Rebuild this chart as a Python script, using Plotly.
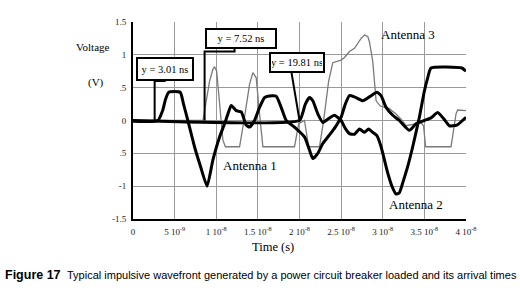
import plotly.graph_objects as go

# ---- data (time in ns, voltage in V) ----
a1_t = [0, 2.98, 3.58, 3.9, 4.3, 5.67, 6.07, 6.59, 7.39, 8.11, 8.9, 9.6, 10.4, 11.0, 11.4, 11.8,
        12.4, 13.0, 13.6, 14.0, 14.6, 15.2, 15.8, 16.2, 17.2, 17.8, 18.4, 19.4, 20.6, 21.2, 21.6,
        22.2, 22.8, 23.6, 24.3, 25.0, 25.5, 26.0, 26.6, 27.6, 28.4, 29.3, 29.8, 30.4, 31.2, 32.0,
        33.2, 34.0, 35.0, 35.8, 36.6, 37.3, 38.0, 38.9, 40.0]
a1_v = [-0.01, 0.0, 0.16, 0.32, 0.43, 0.43, 0.25, 0.0, -0.4, -0.7, -1.0, -0.6, -0.25, -0.05, 0.1, 0.23,
        0.15, 0.13, -0.07, -0.1, 0.0, 0.2, 0.35, 0.37, 0.37, 0.2, 0.0, -0.1, -0.25, -0.45, -0.58,
        -0.5, -0.35, -0.22, -0.1, 0.05, 0.25, 0.38, 0.36, 0.3, 0.36, 0.43, 0.38, 0.2, 0.08, 0.0,
        -0.15, -0.05, 0.0, 0.04, 0.12, 0.03, -0.08, -0.07, 0.05]

a2_t = [0, 20.0, 20.4, 20.7, 21.2, 21.6, 22.2, 22.8, 23.5, 24.2, 25.0, 25.5, 26.0, 26.6, 27.2, 27.8,
        28.3, 28.8, 29.3, 29.8, 30.6, 31.1, 31.6, 32.0, 32.4, 33.0, 33.6, 34.4, 35.0, 35.4, 35.8,
        39.5, 40.0]
a2_v = [0, 0.0, 0.12, 0.25, 0.35, 0.3, 0.1, -0.03, 0.03, 0.08, 0.0, -0.12, -0.2, -0.21, -0.13, -0.18,
        -0.13, -0.18, -0.23, -0.4, -0.8, -1.0, -1.12, -1.1, -0.95, -0.7, -0.4, 0.05, 0.45, 0.65, 0.8,
        0.8, 0.75]

a3_t = [0, 8.4, 8.8, 9.2, 9.6, 9.8, 10.05, 10.4, 10.8, 11.1, 12.8, 13.4, 14.0, 14.4, 14.8, 15.2,
        15.6, 19.4, 19.9, 20.6, 21.1, 22.4, 22.9, 23.5, 24.0, 25.0, 25.4, 26.0, 26.6, 27.4, 27.8,
        28.2, 28.4, 28.8, 29.2, 29.7, 30.8, 31.6, 32.2, 32.8, 33.9, 34.5, 34.9, 35.15, 38.2, 38.8,
        39.0, 40.0]
a3_v = [0, 0.0, 0.3, 0.6, 0.78, 0.82, 0.75, 0.2, -0.3, -0.4, -0.4, 0.05, 0.55, 0.73, 0.65, 0.1,
        -0.4, -0.4, -0.05, 0.0, -0.4, -0.4, 0.0, 0.6, 0.88, 0.92, 0.96, 1.05, 1.1, 1.25, 1.3,
        1.28, 1.2, 0.9, 0.3, 0.22, 0.18, 0.1, 0.02, -0.08, -0.05, -0.02, -0.08, -0.4, -0.4, 0.1,
        0.16, 0.15]

arrival_labels = ["y = 3.01 ns", "y = 7.52 ns", "y = 19.81 ns"]

x_tickvals = [0, 5, 10, 15, 20, 25, 30, 35, 40]
x_ticktext = ["0", "5 10<sup>-9</sup>", "1 10<sup>-8</sup>", "1.5 10<sup>-8</sup>", "2 10<sup>-8</sup>",
              "2.5 10<sup>-8</sup>", "3 10<sup>-8</sup>", "3.5 10<sup>-8</sup>", "4 10<sup>-8</sup>"]
y_tickvals = [1.5, 1, 0.5, 0, -0.5, -1, -1.5]
y_ticktext = ["1.5", "1", ".5", "0", ".5", "-1", "-1.5"]

SERIF = "Liberation Serif, Times New Roman, serif"

fig = go.Figure()
fig.add_trace(go.Scatter(x=a3_t, y=a3_v, mode="lines", name="Antenna 3",
                         line=dict(color="#7a7a7a", width=1.3)))
fig.add_trace(go.Scatter(x=a1_t, y=a1_v, mode="lines", name="Antenna 1",
                         line=dict(color="black", width=3, shape="spline", smoothing=0.5)))
fig.add_trace(go.Scatter(x=a2_t, y=a2_v, mode="lines", name="Antenna 2",
                         line=dict(color="black", width=3, shape="spline", smoothing=0.5)))

# pointer lines for arrival-time boxes
pointer_paths = [
    "M 2.6,0 L 2.6,0.6 L 3.8,0.6 L 3.8,0.64",
    "M 8.6,0 L 8.6,1.05 L 12.2,1.05 L 12.2,1.1",
    "M 20.0,0 L 19.0,0.76",
]
for p in pointer_paths:
    fig.add_shape(type="path", path=p, xref="x", yref="y",
                  line=dict(color="black", width=2))

box_pos = [(3.8, 0.79, 52, 18), (12.93, 1.245, 66, 15), (19.66, 0.88, 50, 15)]
for txt, (bx, by, w, h) in zip(arrival_labels, box_pos):
    fig.add_annotation(x=bx, y=by, xref="x", yref="y", text=txt, showarrow=False,
                       font=dict(family=SERIF, size=10.5, color="black"),
                       bgcolor="white", bordercolor="black", borderwidth=2,
                       borderpad=1, width=w, height=h)

# curve labels
for txt, (lx, ly) in zip(["Antenna 1", "Antenna 2", "Antenna 3"],
                         [(14.0, -0.68), (34.0, -1.28), (33.0, 1.31)]):
    fig.add_annotation(x=lx, y=ly, xref="x", yref="y", text=txt, showarrow=False,
                       font=dict(family=SERIF, size=13, color="black"))

# axis titles
def paper_text(txt, x, y, size, family=SERIF, xanchor="center"):
    fig.add_annotation(x=x, y=y, xref="paper", yref="paper", text=txt, showarrow=False,
                       xanchor=xanchor, yanchor="middle",
                       font=dict(family=family, size=size, color="black"))

paper_text("Voltage", -0.12, 0.873, 11)
paper_text("(V)", -0.11, 0.695, 11)
paper_text("Time (s)", 0.42, -0.142, 12.5)

# caption
paper_text("<b>Figure 17</b>", -0.390, -0.284, 12.5,
           family="Liberation Sans, Arial, sans-serif", xanchor="left")
paper_text("Typical impulsive wavefront generated by a power circuit breaker loaded and its arrival times",
           -0.203, -0.284, 11, family="Liberation Sans, Arial, sans-serif", xanchor="left")

fig.update_layout(
    width=520, height=288,
    margin=dict(l=133, r=54, t=22, b=69),
    paper_bgcolor="white", plot_bgcolor="white",
    showlegend=False,
    xaxis=dict(range=[0, 40], tickvals=x_tickvals, ticktext=x_ticktext,
               showgrid=True, gridcolor="#9a9a9a", gridwidth=1, zeroline=False,
               showline=True, linecolor="black", linewidth=2, ticks="", ticklabelstandoff=3,
               tickfont=dict(family=SERIF, size=9, color="#222")),
    yaxis=dict(range=[-1.5, 1.5], tickvals=y_tickvals, ticktext=y_ticktext,
               showgrid=True, gridcolor="#9a9a9a", gridwidth=1, zeroline=False,
               showline=True, linecolor="black", linewidth=2, ticks="", ticklabelstandoff=3,
               tickfont=dict(family=SERIF, size=9, color="#222")),
)

fig.write_html("out.html", post_script="document.body.style.margin='0';",
               config={"displayModeBar": False})
